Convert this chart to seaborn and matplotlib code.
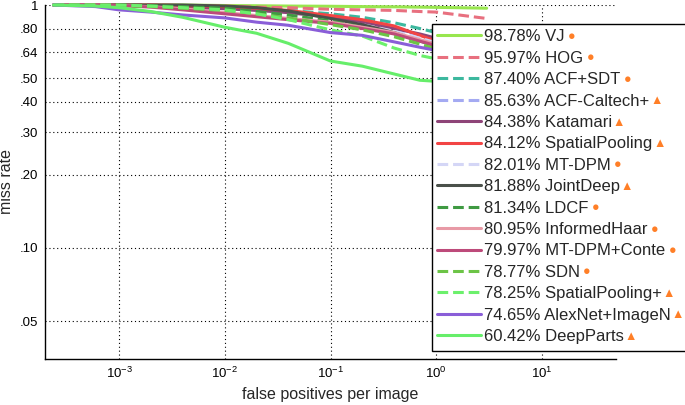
import numpy as np
import pandas as pd
import matplotlib.pyplot as plt
from matplotlib.patches import Rectangle
import seaborn as sns

# false positives per image (shared sampling grid for every curve)
fppi = [2.4e-4, 6e-4, 1e-3, 2e-3, 4e-3, 1e-2, 2e-2, 4e-2, 0.1, 0.2, 0.4, 0.7, 1.0, 3.0]

methods = ["VJ", "HOG", "ACF+SDT", "ACF-Caltech+", "Katamari", "SpatialPooling",
           "MT-DPM", "JointDeep", "LDCF", "InformedHaar", "MT-DPM+Conte", "SDN",
           "SpatialPooling+", "AlexNet+ImageN", "DeepParts"]
log_avg = [98.78, 95.97, 87.40, 85.63, 84.38, 84.12, 82.01, 81.88, 81.34, 80.95,
           79.97, 78.77, 78.25, 74.65, 60.42]
badge = ["o", "o", "o", "^", "^", "^", "o", "^", "o", "o", "o", "o", "^", "^", "^"]

miss_vj = [1, 1, 1, 1, 1, 0.995, 0.993, 0.99, 0.988, 0.985, 0.983, 0.98, 0.978, 0.97]
miss_hog = [1, 1, 1, 1, 0.995, 0.99, 0.98, 0.975, 0.96, 0.955, 0.95, 0.94, 0.935, 0.88]
miss_acf_sdt = [1, 1, 1, 0.995, 0.99, 0.975, 0.965, 0.95, 0.92, 0.89, 0.845, 0.80, 0.77, 0.70]
miss_acf_caltech = [1, 1, 1, 0.995, 0.985, 0.97, 0.955, 0.935, 0.895, 0.86, 0.80, 0.75, 0.72, 0.64]
miss_katamari = [1, 1, 1, 0.99, 0.98, 0.965, 0.95, 0.93, 0.89, 0.85, 0.80, 0.76, 0.73, 0.66]
miss_spatialpool = [1, 1, 1, 1, 0.995, 0.985, 0.97, 0.95, 0.905, 0.87, 0.82, 0.75, 0.71, 0.63]
miss_mtdpm = [1, 1, 0.995, 0.99, 0.975, 0.955, 0.93, 0.905, 0.86, 0.83, 0.78, 0.73, 0.70, 0.62]
miss_jointdeep = [1, 1, 1, 1, 1, 0.99, 0.975, 0.945, 0.88, 0.83, 0.77, 0.71, 0.68, 0.60]
miss_ldcf = [1, 1, 1, 0.995, 0.985, 0.97, 0.94, 0.91, 0.86, 0.81, 0.76, 0.71, 0.68, 0.59]
miss_informedhaar = [1, 1, 0.995, 0.985, 0.965, 0.93, 0.905, 0.88, 0.85, 0.81, 0.77, 0.72, 0.69, 0.62]
miss_mtdpm_ctx = [1, 1, 0.995, 0.98, 0.955, 0.92, 0.895, 0.87, 0.84, 0.80, 0.76, 0.71, 0.68, 0.61]
miss_sdn = [1, 1, 0.995, 0.985, 0.97, 0.95, 0.92, 0.885, 0.83, 0.79, 0.74, 0.69, 0.66, 0.58]
miss_spatialpool_plus = [1, 1, 1, 0.99, 0.975, 0.955, 0.92, 0.87, 0.79, 0.745, 0.665, 0.62, 0.60, 0.55]
miss_alexnet = [1.0, 0.985, 0.955, 0.935, 0.91, 0.885, 0.85, 0.825, 0.77, 0.75, 0.705, 0.67, 0.65, 0.60]
miss_deepparts = [1.0, 0.99, 0.975, 0.94, 0.89, 0.81, 0.765, 0.695, 0.588, 0.56, 0.52, 0.49, 0.485, 0.46]

all_miss = [miss_vj, miss_hog, miss_acf_sdt, miss_acf_caltech, miss_katamari,
            miss_spatialpool, miss_mtdpm, miss_jointdeep, miss_ldcf, miss_informedhaar,
            miss_mtdpm_ctx, miss_sdn, miss_spatialpool_plus, miss_alexnet, miss_deepparts]

yticks = [0.05, 0.10, 0.20, 0.30, 0.40, 0.50, 0.64, 0.80, 1.0]
ytick_labels = [".05", ".10", ".20", ".30", ".40", ".50", ".64", ".80", "1"]
xticks = [1e-3, 1e-2, 1e-1, 1e0, 1e1]

colors = ["#98e64e", "#e8707f", "#3cb89e", "#a4aaf2", "#8e4478", "#f24444",
          "#d4d6f6", "#4a504a", "#3f9a42", "#e89aa6", "#bd4a7a", "#6cc446",
          "#6cf06c", "#8a5ed8", "#66ee6a"]
dashed = [False, True, True, True, False, False, True, False, True, False,
          False, True, True, False, False]

rows = []
for name, miss in zip(methods, all_miss):
    for f, m in zip(fppi, miss):
        rows.append({"method": name, "fppi": f, "miss": m})
df = pd.DataFrame(rows)

sns.set_style("white")
plt.rcParams["font.family"] = ["Liberation Sans", "DejaVu Sans"]

W, H = 685, 405
fig, ax = plt.subplots(figsize=(W / 100, H / 100), dpi=100)
fig.subplots_adjust(left=45 / W, right=616 / W, bottom=(H - 359) / H, top=(H - 5) / H)

dash_pattern = (0, (3.5, 1.6))
for i, name in enumerate(methods):
    sub = df[df["method"] == name]
    sns.lineplot(data=sub, x="fppi", y="miss", ax=ax, color=colors[i], lw=2.2,
                 linestyle=dash_pattern if dashed[i] else "-",
                 label=f"{log_avg[i]:.2f}% {name}", legend=False, clip_on=False)

ax.set_xscale("log")
ax.set_yscale("log")
ax.set_xlim(10 ** -3.7, 10 ** 1.7)
ax.set_ylim(0.0349, 1.0)
ax.set_xticks(xticks)
ax.set_yticks(yticks)
ax.set_yticklabels(ytick_labels)
ax.minorticks_off()
ax.tick_params(direction="in", length=4, width=0.8, labelsize=9.5, pad=5, colors="black")
ax.grid(True, which="major", color="black", lw=0.8, linestyle=(0, (1, 2.5)))
for side in ["top", "right"]:
    ax.spines[side].set_visible(False)
for side in ["left", "bottom"]:
    ax.spines[side].set_color("black")
    ax.spines[side].set_linewidth(1.0)
ax.set_xlabel("false positives per image", fontsize=11.5, labelpad=4)
ax.set_ylabel("miss rate", fontsize=11.5, labelpad=4)

# legend box that runs off the right edge like the original
frame = Rectangle((432 / W, (H - 351) / H), (720 - 432) / W, (351 - 24) / H,
                  transform=fig.transFigure, facecolor="white", edgecolor="black",
                  lw=1.0, zorder=3, clip_on=False)
fig.add_artist(frame)

handles, labels = ax.get_legend_handles_labels()
leg = fig.legend(handles, labels, loc="upper left", bbox_to_anchor=(432 / W, (H - 24) / H),
                 bbox_transform=fig.transFigure, frameon=False, fontsize=12,
                 handlelength=2.6, handletextpad=0.2, labelspacing=0.385,
                 borderpad=0.32, borderaxespad=0)
leg.set_zorder(5)

fig.canvas.draw()
renderer = fig.canvas.get_renderer()
for t, b in zip(leg.get_texts(), badge):
    bb = t.get_window_extent(renderer)
    sym = "\u25cf" if b == "o" else "\u25b2"
    fig.text((bb.x1 + 7) / W, (bb.y0 + bb.y1) / 2 / H, sym, color="#ff7f27",
             fontsize=9, ha="center", va="center", zorder=6)

plt.savefig("out.png", dpi=100)
plt.close()
